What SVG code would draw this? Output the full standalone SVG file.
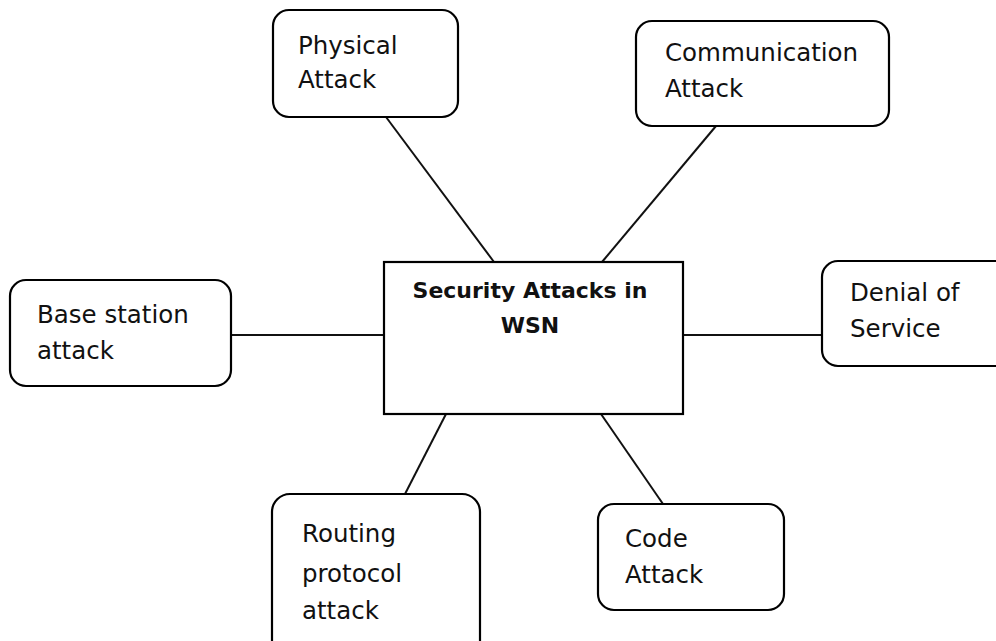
<svg xmlns="http://www.w3.org/2000/svg" width="996" height="641" viewBox="0 0 996 641">
<style>
.box{fill:#fff;stroke:#000;stroke-width:2.2}
.t{font-family:"DejaVu Sans","Open Sans",sans-serif;font-size:24.5px;fill:#111}
.b{font-weight:bold;text-anchor:middle;font-size:22px}
.c{stroke:#111;stroke-width:2;fill:none}
</style>
<rect width="996" height="641" fill="#fff"/>
<g id="connectors">
<line class="c" x1="386" y1="117" x2="494" y2="262"/>
<line class="c" x1="716" y1="126" x2="602" y2="262"/>
<line class="c" x1="231" y1="335" x2="384" y2="335"/>
<line class="c" x1="683" y1="335" x2="822" y2="335"/>
<line class="c" x1="446" y1="414" x2="405" y2="494"/>
<line class="c" x1="601" y1="414" x2="663" y2="504"/>
</g>
<g id="center">
<rect class="box" x="384" y="262" width="299" height="152"/>
<text class="t b" x="530" y="298">Security Attacks in</text>
<text class="t b" x="530" y="333">WSN</text>
</g>
<g id="physical">
<rect class="box" x="273" y="10" width="185" height="107" rx="16"/>
<text class="t" x="298" y="54">Physical</text>
<text class="t" x="298" y="88">Attack</text>
</g>
<g id="communication">
<rect class="box" x="636" y="21" width="253" height="105" rx="16"/>
<text class="t" x="665" y="61">Communication</text>
<text class="t" x="665" y="97">Attack</text>
</g>
<g id="basestation">
<rect class="box" x="10" y="280" width="221" height="106" rx="16"/>
<text class="t" x="37" y="323">Base station</text>
<text class="t" x="37" y="359">attack</text>
</g>
<g id="denial">
<rect class="box" x="822" y="261" width="190" height="105" rx="16"/>
<text class="t" x="850" y="301">Denial of</text>
<text class="t" x="850" y="337">Service</text>
</g>
<g id="routing">
<rect class="box" x="272" y="494" width="208" height="170" rx="18"/>
<text class="t" x="302" y="542">Routing</text>
<text class="t" x="302" y="582">protocol</text>
<text class="t" x="302" y="619">attack</text>
</g>
<g id="code">
<rect class="box" x="598" y="504" width="186" height="106" rx="16"/>
<text class="t" x="625" y="547">Code</text>
<text class="t" x="625" y="583">Attack</text>
</g>
</svg>
